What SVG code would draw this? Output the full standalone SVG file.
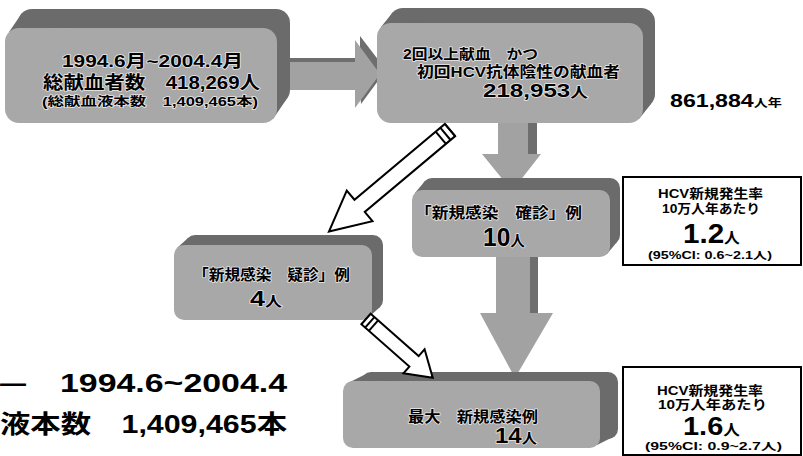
<svg xmlns="http://www.w3.org/2000/svg" width="803" height="456" viewBox="0 0 803 456">
<style>
.back{fill:#6b6b6b}
.front{fill:#a8a8a8}
.garrow{fill:#a2a2a2}
.gdark{fill:#6e6e6e}
.oarrow{fill:#fff;stroke:#000;stroke-width:2;stroke-linejoin:miter}
.t{font-family:"Liberation Sans","Noto Sans CJK JP",sans-serif;font-weight:bold;fill:#000}
.h{stroke:#e8e8e8;stroke-width:1.5;paint-order:stroke;stroke-linejoin:round}
.rate{fill:#fff;stroke:#000;stroke-width:2}
</style>
<rect width="803" height="456" fill="#fff"/>

<g id="connectors">
  <g id="arrow-1-2">
    <polygon class="gdark" points="286,58 360,58 360,36 386,70 361,104 360,86 286,86"/>
    <polygon class="garrow" points="282,62 355,62 355,40 380,74 355,108 355,90 282,90"/>
  </g>
  <g id="arrow-2-3">
    <rect class="gdark" x="526" y="120" width="11" height="38"/>
    <rect class="garrow" x="498" y="120" width="30" height="40"/>
    <polygon class="garrow" points="482,154 541,154 512,191"/>
  </g>
  <g id="arrow-3-5">
    <rect class="gdark" x="529" y="255" width="9" height="60"/>
    <rect class="garrow" x="496" y="255" width="34" height="60"/>
    <polygon class="garrow" points="480,313 553,313 515,378"/>
  </g>
</g>

<g id="box1">
  <rect class="back" x="18" y="9" width="272" height="95" rx="14"/>
  <polygon class="back" points="9,32 22,13 286,100 273,119"/>
  <rect class="front" x="5" y="28" width="272" height="95" rx="14"/>
  <text class="t h" x="62" y="67" font-size="17" textLength="181" lengthAdjust="spacingAndGlyphs">1994.6月~2004.4月</text>
  <text class="t h" x="43" y="89" font-size="18" textLength="217" lengthAdjust="spacingAndGlyphs">総献血者数　418,269人</text>
  <text class="t h" x="42" y="106" font-size="12" textLength="216" lengthAdjust="spacingAndGlyphs">(総献血液本数　1,409,465本)</text>
</g>

<g id="box2">
  <rect class="back" x="389" y="8" width="266" height="100" rx="14"/>
  <polygon class="back" points="381,27 393,12 651,104 639,119"/>
  <rect class="front" x="377" y="23" width="266" height="100" rx="14"/>
  <text class="t h" x="403" y="59" font-size="14" textLength="135" lengthAdjust="spacingAndGlyphs">2回以上献血　かつ</text>
  <text class="t h" x="417" y="77" font-size="15" textLength="203" lengthAdjust="spacingAndGlyphs">初回HCV抗体陰性の献血者</text>
  <text class="t h" x="483" y="97" font-size="19" textLength="105" lengthAdjust="spacingAndGlyphs">218,953<tspan font-size="14">人</tspan></text>
</g>

<g id="person-years">
  <text class="t" x="670" y="107" font-size="18" textLength="112" lengthAdjust="spacingAndGlyphs">861,884<tspan font-size="11">人年</tspan></text>
</g>

<g id="box3">
  <rect class="back" x="422" y="178" width="198" height="67" rx="10"/>
  <polygon class="back" points="415,193 425,181 617,242 607,254"/>
  <rect class="front" x="412" y="190" width="198" height="67" rx="10"/>
  <text class="t h" x="415" y="218" font-size="15" textLength="167" lengthAdjust="spacingAndGlyphs">「新規感染　確診」例</text>
  <text class="t h" x="483" y="246" font-size="25" textLength="42" lengthAdjust="spacingAndGlyphs">10<tspan font-size="15">人</tspan></text>
</g>

<g id="rate1">
  <rect class="rate" x="623" y="177" width="178" height="88"/>
  <text class="t" x="658" y="198" font-size="13" textLength="105" lengthAdjust="spacingAndGlyphs">HCV新規発生率</text>
  <text class="t" x="662" y="213" font-size="13" textLength="98" lengthAdjust="spacingAndGlyphs">10万人年あたり</text>
  <text class="t" x="683" y="243" font-size="28" textLength="57" lengthAdjust="spacingAndGlyphs">1.2<tspan font-size="15">人</tspan></text>
  <text class="t" x="648" y="259" font-size="10" textLength="124" lengthAdjust="spacingAndGlyphs">(95%CI: 0.6~2.1人)</text>
</g>

<g id="box4">
  <rect class="back" x="185" y="235" width="198" height="75" rx="10"/>
  <polygon class="back" points="177,248 188,238 380,307 369,317"/>
  <rect class="front" x="174" y="245" width="198" height="75" rx="10"/>
  <text class="t h" x="193" y="280" font-size="15" textLength="157" lengthAdjust="spacingAndGlyphs">「新規感染　疑診」例</text>
  <text class="t h" x="250" y="306" font-size="22" textLength="32" lengthAdjust="spacingAndGlyphs">4<tspan font-size="14">人</tspan></text>
</g>

<g id="box5">
  <rect class="back" x="361" y="372" width="257" height="67" rx="10"/>
  <polygon class="back" points="346,384 364,375 615,436 597,445"/>
  <rect class="front" x="343" y="381" width="257" height="67" rx="10"/>
  <text class="t h" x="408" y="422" font-size="15" textLength="130" lengthAdjust="spacingAndGlyphs">最大　新規感染例</text>
  <text class="t h" x="495" y="443" font-size="22" textLength="42" lengthAdjust="spacingAndGlyphs">14<tspan font-size="14">人</tspan></text>
</g>

<g id="rate2">
  <rect class="rate" x="623" y="367" width="178" height="88"/>
  <text class="t" x="657" y="395" font-size="13" textLength="106" lengthAdjust="spacingAndGlyphs">HCV新規発生率</text>
  <text class="t" x="658" y="409" font-size="13" textLength="109" lengthAdjust="spacingAndGlyphs">10万人年あたり</text>
  <text class="t" x="683" y="435" font-size="26" textLength="57" lengthAdjust="spacingAndGlyphs">1.6<tspan font-size="15">人</tspan></text>
  <text class="t" x="645" y="450" font-size="10" textLength="137" lengthAdjust="spacingAndGlyphs">(95%CI: 0.9~2.7人)</text>
</g>

<g id="outline-arrows">
  <g id="arrow-2-4" transform="translate(450,130) rotate(140)">
    <polygon class="oarrow" points="0,-8 118,-8 118,-20 158,0 118,20 118,8 0,8"/>
    <line x1="0" y1="-8" x2="0" y2="8" stroke="#000" stroke-width="2"/>
    <line x1="6" y1="-8" x2="6" y2="8" stroke="#000" stroke-width="2"/>
    <line x1="12" y1="-8" x2="12" y2="8" stroke="#000" stroke-width="2"/>
  </g>
  <g id="arrow-4-5" transform="translate(366,319) rotate(41.4)">
    <polygon class="oarrow" points="0,-7 64,-7 64,-16 89,0 64,16 64,7 0,7"/>
    <line x1="5" y1="-7" x2="5" y2="7" stroke="#000" stroke-width="2"/>
    <line x1="10" y1="-7" x2="10" y2="7" stroke="#000" stroke-width="2"/>
  </g>
</g>

<g id="footer">
  <text class="t" x="0" y="392" font-size="26" font-weight="normal">—</text>
  <text class="t" x="60" y="392" font-size="26" textLength="227" lengthAdjust="spacingAndGlyphs">1994.6~2004.4</text>
  <text class="t" x="0" y="433" font-size="25" textLength="287" lengthAdjust="spacingAndGlyphs">液本数　1,409,465本</text>
</g>
</svg>
